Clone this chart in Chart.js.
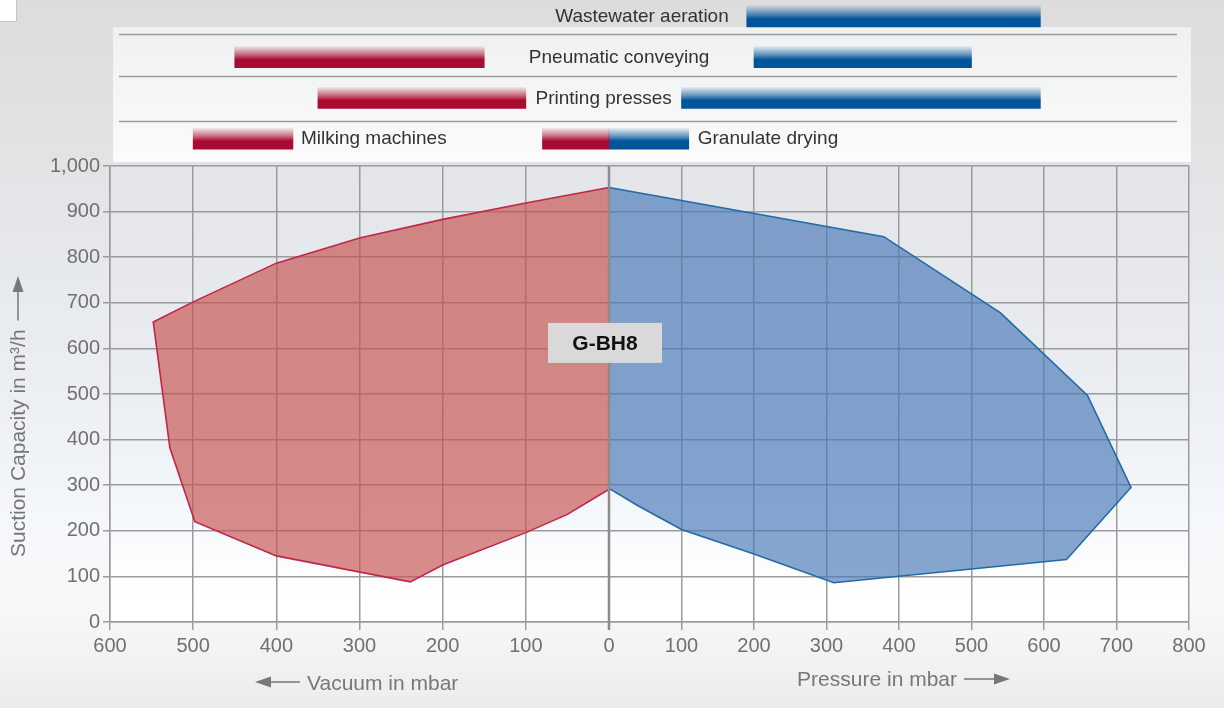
<!DOCTYPE html>
<html>
<head>
<meta charset="utf-8">
<script src="https://cdn.jsdelivr.net/npm/chart.js@4.4.1/dist/chart.umd.min.js"></script>
<style>
  html, body { margin: 0; padding: 0; }
  body {
    width: 1224px; height: 708px; overflow: hidden; position: relative;
    background: linear-gradient(180deg, #dcdcdc 0%, #e2e4e6 25%, #ebeff4 55%, #f4f7fb 74%, #f8f8f8 86%, #ececec 100%);
    font-family: "Liberation Sans", Arial, sans-serif;
  }
  #mainChart { position: absolute; left: 0; top: 0; }
  #panelChart { position: absolute; left: 0; top: -4px; z-index: 2; }
  .corner-box { position: absolute; left: 0; top: 0; width: 16px; height: 21px; background: #fff; border-right: 1px solid #c4c4c4; border-bottom: 1px solid #c4c4c4; z-index: 3; }
</style>
</head>
<body>
<div class="corner-box"></div>
<canvas id="mainChart" width="1224" height="708"></canvas>
<canvas id="panelChart" width="1224" height="166"></canvas>
<script>
// --- data (mbar / m³/h) ---
const vacuumMbar = [0, 100, 200, 300, 400, 500, 548, 528, 498, 400, 239, 200, 100, 50, 0];
const vacuumFlow = [953, 919, 883, 842, 787, 702, 658, 382, 220, 145, 88, 125, 196, 236, 291];
const pressureMbar = [0, 379, 540, 660, 720, 631, 310, 200, 100, 40, 0];
const pressureFlow = [953, 845, 678, 497, 295, 137, 86, 149, 203, 255, 293];

const vacuumTicks = [600, 500, 400, 300, 200, 100];
const pressureTicks = [0, 100, 200, 300, 400, 500, 600, 700, 800];

const appLabels = ['Wastewater aeration', 'Pneumatic conveying', 'Printing presses', 'Milking machines', 'Granulate drying'];
const appRow = [0, 1, 2, 3, 3];
const appVacuum = [null, [450, 150], [350, 100], [500, 380], [80, 0]];
const appPressure = [[190, 595], [200, 500], [100, 595], null, [0, 110]];

const modelName = 'G-BH8';

// vacuum side is drawn wider per mbar than the pressure side
const VAC_K = 688.28 / 600;
const X_MIN = -600 * VAC_K;
const toX = v => -v * VAC_K;
const FONT = '"Liberation Sans", Arial, sans-serif';

const RED = [169, 10, 47];
const BLUE = [0, 84, 153];
const rowKeys = ['r0', 'r1', 'r2', 'r3'];

// --- main chart ---
const chartBg = {
    id: 'chartBg',
    beforeDraw(chart) {
        const { ctx, chartArea: a } = chart;
        const g = ctx.createLinearGradient(0, a.top, 0, a.bottom);
        g.addColorStop(0, '#e3e5e8');
        g.addColorStop(0.5, '#eaedf1');
        g.addColorStop(0.78, '#f6f9fc');
        g.addColorStop(0.9, '#fefefe');
        g.addColorStop(1, '#ffffff');
        ctx.save();
        ctx.fillStyle = g;
        ctx.fillRect(a.left, a.top, a.right - a.left, a.bottom - a.top);
        ctx.restore();
    }
};

function arrow(ctx, x1, y1, x2, y2) {
    // line from (x1,y1) with head at (x2,y2)
    const ang = Math.atan2(y2 - y1, x2 - x1);
    const hl = 16, hw = 5.5;
    const bx = x2 - Math.cos(ang) * hl, by = y2 - Math.sin(ang) * hl;
    ctx.beginPath();
    ctx.moveTo(x1, y1);
    ctx.lineTo(bx, by);
    ctx.stroke();
    ctx.beginPath();
    ctx.moveTo(x2, y2);
    ctx.lineTo(bx + Math.sin(ang) * hw, by - Math.cos(ang) * hw);
    ctx.lineTo(bx - Math.sin(ang) * hw, by + Math.cos(ang) * hw);
    ctx.closePath();
    ctx.fill();
}

const overlay = {
    id: 'overlay',
    afterDatasetsDraw(chart) {
        const { ctx, chartArea: a, scales: { x, y } } = chart;
        ctx.save();
        // zero line
        const x0 = x.getPixelForValue(0);
        ctx.strokeStyle = '#8c8c8c';
        ctx.lineWidth = 2.5;
        ctx.beginPath();
        ctx.moveTo(x0, a.top);
        ctx.lineTo(x0, a.bottom + 8);
        ctx.stroke();

        // model label box
        const cy = y.getPixelForValue(612);
        ctx.fillStyle = '#d9d9d9';
        ctx.fillRect(x0 - 61, cy - 20, 114, 40);
        ctx.fillStyle = '#111';
        ctx.font = 'bold 21px ' + FONT;
        ctx.textAlign = 'center';
        ctx.textBaseline = 'middle';
        ctx.fillText(modelName, x0 - 4, cy + 1);
        ctx.restore();
    },
    afterDraw(chart) {
        const { ctx } = chart;
        ctx.save();
        ctx.fillStyle = '#777';
        ctx.strokeStyle = '#777';
        ctx.lineWidth = 1.5;
        ctx.font = '21px ' + FONT;
        ctx.textBaseline = 'middle';

        // x titles
        ctx.textAlign = 'left';
        ctx.fillText('Vacuum in mbar', 307, 684);
        arrow(ctx, 300, 682, 255, 682);
        ctx.textAlign = 'right';
        ctx.fillText('Pressure in mbar', 957, 680);
        arrow(ctx, 964, 679, 1010, 679);

        // y title
        ctx.translate(19, 557);
        ctx.rotate(-Math.PI / 2);
        ctx.textAlign = 'left';
        ctx.fillText('Suction Capacity in m\u00b3/h', 0, 0);
        const w = ctx.measureText('Suction Capacity in m\u00b3/h').width;
        arrow(ctx, w + 9, -1, 281, -1);
        ctx.restore();
    }
};

const xTickValues = vacuumTicks.map(toX).concat(pressureTicks);
const gridColor = '#9b9b9b';

new Chart(document.getElementById('mainChart'), {
    type: 'scatter',
    data: {
        datasets: [
            {
                label: 'Vacuum',
                data: vacuumMbar.map((v, i) => ({ x: toX(v), y: vacuumFlow[i] })),
                showLine: true,
                fill: 'shape',
                tension: 0,
                pointRadius: 0,
                borderColor: '#c0264a',
                borderWidth: 1.6,
                backgroundColor: 'rgba(198, 80, 79, 0.66)'
            },
            {
                label: 'Pressure',
                data: pressureMbar.map((p, i) => ({ x: p, y: pressureFlow[i] })),
                showLine: true,
                fill: 'shape',
                tension: 0,
                pointRadius: 0,
                borderColor: '#236aa6',
                borderWidth: 1.6,
                backgroundColor: 'rgba(72, 120, 182, 0.66)'
            }
        ]
    },
    options: {
        responsive: false,
        animation: false,
        layout: { padding: { top: 166, left: 0, right: 35, bottom: 0 } },
        plugins: { legend: { display: false }, tooltip: { enabled: false } },
        scales: {
            x: {
                type: 'linear',
                min: X_MIN,
                max: 800,
                afterBuildTicks: scale => { scale.ticks = xTickValues.map(v => ({ value: v })); },
                afterFit: scale => { scale.height = 86; },
                ticks: {
                    autoSkip: false,
                    maxRotation: 0,
                    padding: 4,
                    color: '#707070',
                    font: { family: FONT, size: 20 },
                    callback: v => String(Math.round(v < 0 ? -v / VAC_K : v))
                },
                grid: { color: gridColor, lineWidth: 1.5, tickLength: 8 },
                border: { color: gridColor, width: 1.5 }
            },
            y: {
                min: 0,
                max: 1000,
                afterFit: scale => { scale.width = 110; },
                ticks: {
                    stepSize: 100,
                    padding: 3,
                    color: '#707070',
                    font: { family: FONT, size: 20 },
                    callback: v => v.toLocaleString('en-US')
                },
                grid: { color: gridColor, lineWidth: 1.5, tickLength: 7 },
                border: { color: gridColor, width: 1.5 }
            }
        }
    },
    plugins: [chartBg, overlay]
});

// --- application panel ---
function barFill(rgb) {
    return ctx => {
        const solid = `rgb(${rgb.join(',')})`;
        const chart = ctx.chart;
        if (!chart.chartArea || !ctx.parsed) return solid;
        const cy = chart.scales.y.getPixelForValue(ctx.parsed.y);
        const g = chart.ctx.createLinearGradient(0, cy - 10.5, 0, cy + 10.5);
        g.addColorStop(0, `rgba(${rgb.join(',')},0.08)`);
        g.addColorStop(0.35, `rgba(${rgb.join(',')},0.55)`);
        g.addColorStop(0.62, solid);
        g.addColorStop(1, solid);
        return g;
    };
}

const vacData = [], presData = [];
appLabels.forEach((name, i) => {
    if (appVacuum[i]) vacData.push({ x: [toX(appVacuum[i][0]), toX(appVacuum[i][1])], y: rowKeys[appRow[i]] });
    if (appPressure[i]) presData.push({ x: [appPressure[i][0], appPressure[i][1]], y: rowKeys[appRow[i]] });
});

// where each label sits relative to its bars
const labelPlace = ['beforePressure', 'between', 'between', 'afterVacuum', 'afterPressure'];

const panelDecor = {
    id: 'panelDecor',
    beforeDraw(chart) {
        const { ctx } = chart;
        ctx.save();
        const g = ctx.createLinearGradient(0, 31, 0, 166);
        g.addColorStop(0, '#eff0f1');
        g.addColorStop(1, '#fbfbfb');
        ctx.fillStyle = g;
        ctx.fillRect(113, 31, 1078, 135);
        ctx.strokeStyle = '#9a9a9a';
        ctx.lineWidth = 1.5;
        [38.5, 80.5, 125.5].forEach(ly => {
            ctx.beginPath();
            ctx.moveTo(119, ly);
            ctx.lineTo(1177, ly);
            ctx.stroke();
        });
        ctx.restore();
    },
    afterDatasetsDraw(chart) {
        const { ctx, scales: { x, y } } = chart;
        ctx.save();
        ctx.fillStyle = '#333';
        ctx.font = '19px ' + FONT;
        ctx.textBaseline = 'middle';
        appLabels.forEach((name, i) => {
            const cy = y.getPixelForValue(appRow[i]) + 0.5;
            const vac = appVacuum[i], pres = appPressure[i];
            const place = labelPlace[i];
            if (place === 'beforePressure') {
                ctx.textAlign = 'right';
                ctx.fillText(name, x.getPixelForValue(pres[0]) - 18, cy);
            } else if (place === 'between') {
                ctx.textAlign = 'center';
                const mid = (x.getPixelForValue(toX(vac[1])) + x.getPixelForValue(pres[0])) / 2;
                ctx.fillText(name, mid, cy);
            } else if (place === 'afterVacuum') {
                ctx.textAlign = 'left';
                ctx.fillText(name, x.getPixelForValue(toX(vac[1])) + 8, cy);
            } else {
                ctx.textAlign = 'left';
                ctx.fillText(name, x.getPixelForValue(pres[1]) + 9, cy);
            }
        });
        ctx.restore();
    }
};

new Chart(document.getElementById('panelChart'), {
    type: 'bar',
    data: {
        labels: rowKeys,
        datasets: [
            { label: 'Vacuum', data: vacData, grouped: false, barThickness: 21, borderWidth: 0, borderSkipped: false, backgroundColor: barFill(RED) },
            { label: 'Pressure', data: presData, grouped: false, barThickness: 21, borderWidth: 0, borderSkipped: false, backgroundColor: barFill(BLUE) }
        ]
    },
    options: {
        indexAxis: 'y',
        responsive: false,
        animation: false,
        layout: { padding: { left: 110, right: 35, top: 0, bottom: 3 } },
        plugins: { legend: { display: false }, tooltip: { enabled: false } },
        scales: {
            x: { type: 'linear', min: X_MIN, max: 800, display: false },
            y: { type: 'category', display: false, offset: true }
        }
    },
    plugins: [panelDecor]
});
</script>
</body>
</html>
